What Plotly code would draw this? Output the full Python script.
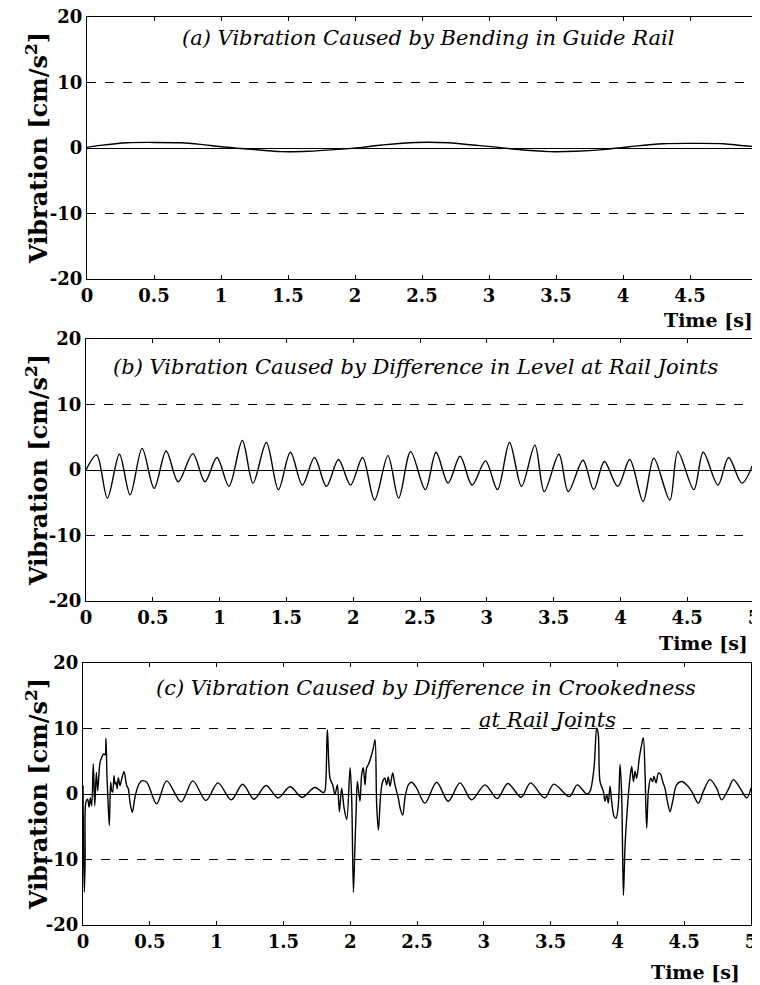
import plotly.graph_objects as go

# ---------------- data ----------------
a_t = [0, 0.1, 0.3, 0.5, 0.7, 0.85, 1.0, 1.2, 1.45, 1.65, 1.85, 2.05, 2.2, 2.45, 2.7, 2.88,
       3.0, 3.2, 3.45, 3.65, 3.85, 4.05, 4.3, 4.55, 4.75, 4.9, 5.0]
a_v = [0.1, 0.4, 0.8, 0.85, 0.8, 0.55, 0.2, -0.15, -0.55, -0.5, -0.25, 0.1, 0.45, 0.85, 0.8, 0.45,
       0.25, -0.2, -0.55, -0.5, -0.25, 0.2, 0.65, 0.7, 0.65, 0.35, 0.2]

b_t = [0, 0.08, 0.16, 0.25, 0.33, 0.42, 0.51, 0.60, 0.69, 0.80, 0.89, 0.98, 1.07, 1.17, 1.25,
       1.35, 1.44, 1.53, 1.62, 1.71, 1.80, 1.89, 1.98, 2.07, 2.16, 2.26, 2.34, 2.43, 2.54, 2.62,
       2.71, 2.80, 2.89, 2.99, 3.08, 3.17, 3.26, 3.36, 3.43, 3.54, 3.61, 3.72, 3.80, 3.88, 3.98,
       4.07, 4.17, 4.25, 4.37, 4.43, 4.55, 4.62, 4.73, 4.81, 4.91, 5.0]
b_v = [0.0, 2.3, -4.3, 2.4, -3.8, 3.3, -2.8, 2.9, -1.8, 2.5, -1.8, 1.9, -2.5, 4.5, -2.0,
       4.2, -3.0, 2.7, -2.3, 1.9, -2.5, 1.6, -2.3, 1.9, -4.6, 2.2, -4.3, 2.8, -3.0, 2.7,
       -2.0, 2.1, -2.3, 1.4, -3.0, 4.2, -2.5, 3.8, -3.3, 2.4, -3.3, 1.5, -3.0, 1.3, -2.5,
       1.6, -4.8, 1.8, -4.6, 2.8, -3.0, 2.7, -2.3, 1.9, -2.0, 1.3]

c_t = [0.000, 0.004, 0.010, 0.016, 0.022, 0.035, 0.045, 0.055, 0.065, 0.077, 0.088, 0.100, 0.110,
       0.127, 0.140, 0.152, 0.165, 0.172, 0.179, 0.185, 0.197, 0.207, 0.215, 0.222, 0.232, 0.240,
       0.247, 0.256, 0.264, 0.277, 0.290, 0.307, 0.327, 0.339, 0.352, 0.369, 0.389, 0.414, 0.439,
       0.477, 0.551, 0.626, 0.735, 0.822, 0.920, 1.010, 1.110, 1.195, 1.280, 1.370, 1.460, 1.550,
       1.640, 1.735, 1.800, 1.811, 1.829, 1.849, 1.869, 1.886, 1.904, 1.919, 1.936, 1.954, 1.974,
       1.999, 2.011, 2.024, 2.034, 2.044, 2.054, 2.073, 2.086, 2.098, 2.111, 2.123, 2.136, 2.153,
       2.173, 2.186, 2.198, 2.211, 2.228, 2.243, 2.260, 2.273, 2.285, 2.298, 2.318, 2.335, 2.360,
       2.373, 2.393, 2.410, 2.435, 2.460, 2.497, 2.560, 2.647, 2.734, 2.822, 2.909, 3.009, 3.100,
       3.180, 3.280, 3.350, 3.455, 3.525, 3.640, 3.700, 3.770, 3.795, 3.825, 3.845, 3.857, 3.870,
       3.895, 3.907, 3.920, 3.932, 3.945, 3.957, 3.975, 3.990, 4.007, 4.020, 4.032, 4.045, 4.057,
       4.075, 4.094, 4.107, 4.120, 4.132, 4.144, 4.164, 4.182, 4.194, 4.207, 4.219, 4.232, 4.249,
       4.264, 4.274, 4.289, 4.307, 4.324, 4.339, 4.356, 4.374, 4.394, 4.414, 4.443, 4.481, 4.518,
       4.556, 4.606, 4.643, 4.693, 4.743, 4.780, 4.830, 4.868, 4.918, 4.968, 5.000]
c_v = [1.3, -8.0, -15.0, -10.0, -1.2, -0.8, -2.0, -0.6, -1.8, 4.6, -1.8, 3.3, 0.5,
       4.8, 5.6, 6.1, 6.0, 8.5, 3.0, 0.0, -4.8, 1.8, 0.5, 0.3, 2.8, 1.5,
       1.8, 0.8, 2.5, 1.3, 2.3, 3.4, 1.3, 0.8, -1.3, -2.8, -0.5, 1.3, 2.0,
       1.8, -1.5, 2.0, -1.2, 2.0, -1.0, 1.7, -0.9, 1.5, -0.8, 1.3, -0.6, 1.1,
       -0.5, 1.0, 0.2, 0.5, 9.8, 2.4, 1.4, -0.1, 1.4, -2.7, 0.9, -2.1, -3.9,
       4.0, -0.6, -15.0, -9.0, -2.7, 1.9, -1.1, 3.0, 4.0, 1.4, 4.0, 4.5, 5.5,
       7.0, 8.3, -1.6, -5.5, -0.1, 1.9, 2.4, 1.4, 2.6, 1.2, 3.2, 1.4, -0.6,
       -2.1, -3.2, -0.6, 1.4, 1.8, 0.9, -1.4, 1.8, -1.1, 1.7, -0.9, 1.4, -0.7,
       1.6, -0.5, 1.7, -0.6, 1.5, -0.4, 1.4, 0.0, 0.4, 4.0, 10.1, 9.1, 1.9,
       0.4, -1.1, -0.1, -1.4, 1.2, -1.1, -3.4, -3.7, -1.6, 4.5, -0.1, -15.5, -8.0,
       -2.1, 2.4, 4.2, 1.9, 3.5, 2.4, 5.5, 7.6, 8.6, 3.0, -5.2, 0.4, 2.4,
       1.9, 2.7, 1.7, 3.2, 3.0, 1.9, 0.9, -1.1, -2.7, -1.1, 1.4, 1.9, 1.4,
       0.4, -1.4, 0.4, 2.2, 0.9, -0.9, 0.7, 2.2, 0.9, -0.6, 0.9]

x_ticks = [0, 0.5, 1, 1.5, 2, 2.5, 3, 3.5, 4, 4.5, 5]
x_ticktext = ["0", "0.5", "1", "1.5", "2", "2.5", "3", "3.5", "4", "4.5", "5"]
y_ticks = [-20, -10, 0, 10, 20]
y_ticktext = ["-20", "-10", "0", "10", "20"]

titles = ["(a) Vibration Caused by Bending in Guide Rail",
          "(b) Vibration Caused by Difference in Level at Rail Joints",
          "(c) Vibration Caused by Difference in Crookedness"]
title_c2 = "at Rail Joints"
y_title = "Vibration [cm/s<sup>2</sup>]"
x_title = "Time [s]"

# ---------------- layout geometry ----------------
# the page body adds an 8 px margin, so the figure is 8 px smaller and
# screen positions are shifted by 8 px
OFF = 8
W, H = 760 - OFF, 985 - OFF
def px(x):
    return (x - OFF) / W
def py(y):
    return 1 - (y - OFF) / H

panels = [  # left, right, top, bottom  (screen pixels)
    (87, 757, 17, 279),
    (86, 754, 339, 601),
    (83, 751, 663, 925),
]

TICKF = dict(family="DejaVu Serif", size=18, color="black", weight="bold")
fig = go.Figure()
series = [(a_t, a_v), (b_t, b_v), (c_t, c_v)]
for i, (t, v) in enumerate(series):
    sfx = "" if i == 0 else str(i + 1)
    fig.add_trace(go.Scatter(x=t, y=v, mode="lines",
                             line=dict(color="black", width=1.4, shape="spline", smoothing=0.9),
                             xaxis="x" + sfx, yaxis="y" + sfx, showlegend=False,
                             hoverinfo="skip"))

layout = dict(width=W, height=H, margin=dict(l=0, r=0, t=0, b=0, autoexpand=False),
              paper_bgcolor="white", plot_bgcolor="white", showlegend=False)
annotations = []
for i, (l, r, t, b) in enumerate(panels):
    sfx = "" if i == 0 else str(i + 1)
    layout["xaxis" + sfx] = dict(
        domain=[px(l), px(r)], anchor="y" + sfx, range=[0, 5], automargin=False,
        tickvals=x_ticks, ticktext=x_ticktext, ticks="inside", ticklen=4,
        tickcolor="black", showline=True, linecolor="black", linewidth=1, mirror="ticks",
        showgrid=False, zeroline=False, ticklabeloverflow="allow",
        tickfont=TICKF)
    layout["yaxis" + sfx] = dict(
        domain=[py(b), py(t)], anchor="x" + sfx, range=[-20, 20], automargin=False,
        tickvals=y_ticks, ticktext=y_ticktext, ticks="", showline=True,
        linecolor="black", linewidth=1, mirror=True, ticklabeloverflow="allow",
        showgrid=True, gridcolor="black", gridwidth=1, griddash="dash",
        zeroline=True, zerolinecolor="black", zerolinewidth=1.2,
        tickfont=TICKF)
    # y axis title
    annotations.append(dict(text=y_title, xref="paper", yref="paper", x=px(37), y=py((t + b) / 2),
                            textangle=-90, showarrow=False, xanchor="center", yanchor="middle",
                            font=dict(family="DejaVu Serif", size=24, color="black",
                                      weight="bold")))

# x titles
for (xr, yc) in [(755, 320), (750, 643), (742, 972)]:
    annotations.append(dict(text=x_title, xref="paper", yref="paper", x=px(xr), y=py(yc),
                            showarrow=False, xanchor="right", yanchor="middle",
                            font=dict(family="DejaVu Serif", size=19, color="black",
                                      weight="bold")))

# panel titles
TF = dict(family="DejaVu Serif", size=21, color="black", style="italic")
for txt, xc, yc in [(titles[0], 428, 38), (titles[1], 416, 367), (titles[2], 426, 688),
                    (title_c2, 547, 720)]:
    annotations.append(dict(text=txt, xref="paper", yref="paper", x=px(xc), y=py(yc),
                            showarrow=False, xanchor="center", yanchor="middle",
                            font=TF))

layout["annotations"] = annotations
fig.update_layout(**layout)
fig.write_html("out.html")
